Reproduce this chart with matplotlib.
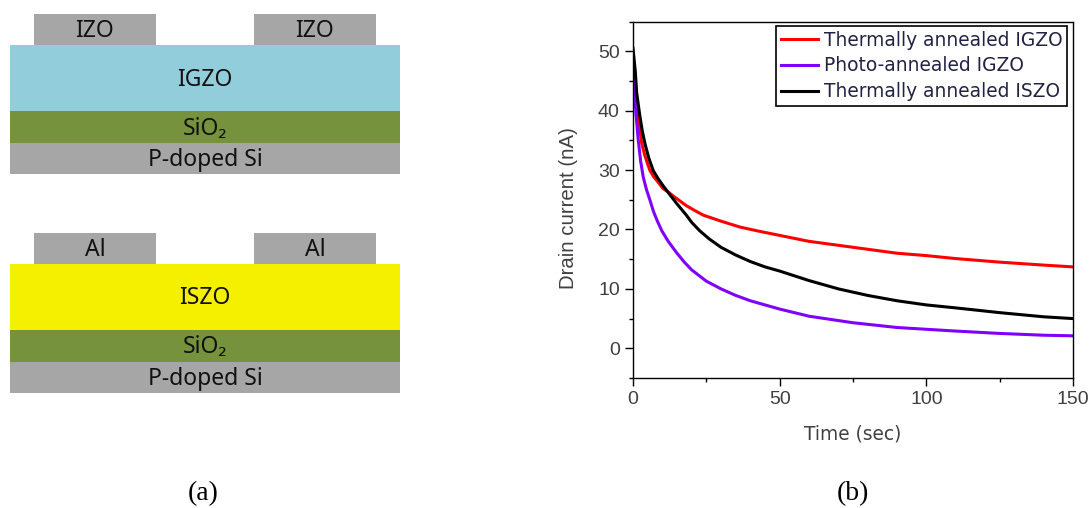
import matplotlib
matplotlib.use("Agg")
from matplotlib import pyplot as plt
from matplotlib.patches import Rectangle

W, H = 1091, 508

# device stacks (a): name, colour, left, right, top, bottom in picture pixels
layer_names = ["IZO", "IZO", "IGZO", "SiO₂", "P-doped Si",
               "Al", "Al", "ISZO", "SiO₂", "P-doped Si"]
layer_colors = ["#a6a6a6", "#a6a6a6", "#92cddc", "#76923c", "#a6a6a6",
                "#a6a6a6", "#a6a6a6", "#f5f000", "#76923c", "#a6a6a6"]
layer_left = [34, 254, 10, 10, 10, 34, 254, 10, 10, 10]
layer_right = [156, 376, 400, 400, 400, 156, 376, 400, 400, 400]
layer_top = [14, 14, 45, 111, 143, 233, 233, 264, 330, 362]
layer_bottom = [45, 45, 111, 143, 174, 264, 264, 330, 362, 393]

# decay curves (b)
t_igzo = [0, 0.5, 1, 1.8, 3, 4, 5, 5.8, 7, 8.5, 10.2, 12, 13.8, 16, 18.2, 21, 24, 30, 36.5, 43, 50, 60, 75, 90, 100,
          110, 125, 140, 150]
i_igzo = [44, 42, 40.5, 38.9, 34.4, 32.5, 31, 29.9, 28.9, 28, 26.9, 26.3, 25.6, 24.8, 24, 23.2, 22.4, 21.4, 20.4,
          19.7, 19, 18, 17, 16, 15.6, 15.1, 14.5, 14, 13.7]
t_photo = [0, 0.3, 1, 1.8, 2.6, 3.5, 4.6, 5.8, 7, 8.4, 9.8, 12, 15, 17.5, 20, 25, 30, 35, 40, 45, 50, 60, 75, 90, 100,
           110, 125, 140, 150]
i_photo = [46.5, 46.5, 39.5, 35, 31.5, 28.8, 26.7, 24.9, 23, 21.3, 19.8, 18, 16, 14.5, 13.2, 11.3, 10, 8.9, 8, 7.3,
           6.6, 5.4, 4.3, 3.5, 3.2, 2.9, 2.5, 2.2, 2.1]
t_iszo = [0, 0.4, 0.8, 1.25, 1.8, 2.4, 3.2, 4.1, 5.4, 6.9, 8.5, 10.2, 12.5, 15, 18.2, 20, 22.7, 26, 30, 35, 40, 45,
          50, 60, 70, 80, 90, 100, 110, 125, 140, 150]
i_iszo = [50.5, 48.5, 46.5, 43, 41, 38.9, 36.5, 34.4, 32, 29.9, 28.6, 27.4, 25.9, 24.3, 22.4, 21.2, 19.8, 18.4, 17,
          15.7, 14.6, 13.7, 13, 11.4, 10, 8.9, 8, 7.3, 6.8, 6, 5.3, 5]
series_names = ["Thermally annealed IGZO", "Photo-annealed IGZO", "Thermally annealed ISZO"]
series_colors = ["#ff0000", "#8000ff", "#000000"]

x_ticks = [0, 50, 100, 150]
x_minor = [25, 75, 125]
y_ticks = [0, 10, 20, 30, 40, 50]
y_minor = [-5, 5, 15, 25, 35, 45, 55]

fig = plt.figure(figsize=(W / 100, H / 100), dpi=100, facecolor="white")

bg = fig.add_axes([0, 0, 1, 1])
bg.set_xlim(0, W)
bg.set_ylim(H, 0)
bg.axis("off")
for name, c, l, r, t, b in zip(layer_names, layer_colors, layer_left, layer_right, layer_top, layer_bottom):
    bg.add_patch(Rectangle((l, t), r - l, b - t, facecolor=c, edgecolor="none"))
    bg.text((l + r) / 2, (t + b) / 2 + 1.5, name, ha="center", va="center", fontsize=16.5,
            color="#111111", family=["Noto Sans", "DejaVu Sans"])
bg.text(203, 494, "(a)", ha="center", va="center", fontsize=20, family="Liberation Serif")
bg.text(853, 494, "(b)", ha="center", va="center", fontsize=20, family="Liberation Serif")

ax = fig.add_axes([633 / W, 1 - 378 / H, 440 / W, (378 - 21.5) / H])
ax.plot(t_igzo, i_igzo, color=series_colors[0], lw=2.2, label=series_names[0])
ax.plot(t_photo, i_photo, color=series_colors[1], lw=2.2, label=series_names[1])
ax.plot(t_iszo, i_iszo, color=series_colors[2], lw=2.2, label=series_names[2])
ax.set_xlim(0, 150)
ax.set_ylim(-5, 55)
ax.set_xticks(x_ticks)
ax.set_xticks(x_minor, minor=True)
ax.set_yticks(y_ticks)
ax.set_yticks(y_minor, minor=True)
ax.tick_params(which="major", length=5.5, width=1, labelsize=14, labelcolor="#404040", pad=4,
               labelfontfamily="Liberation Sans")
ax.tick_params(which="minor", length=3, width=1)
for s in ax.spines.values():
    s.set_linewidth(1)
ax.set_xlabel("Time (sec)", fontsize=13.4, color="#404040", family="DejaVu Sans")
ax.xaxis.set_label_coords(0.5, -0.13)
ax.set_ylabel("Drain current (nA)", fontsize=14.7, color="#404040", family="Liberation Sans")
ax.yaxis.set_label_coords(-0.125, 0.477)

leg = ax.legend(loc="upper right", bbox_to_anchor=(1067 / W, 1 - 26 / H), bbox_transform=fig.transFigure,
                borderaxespad=0, prop={"family": "DejaVu Sans", "size": 13.4}, frameon=True, fancybox=False,
                framealpha=1, edgecolor="black", handlelength=2.0, handletextpad=0.32, labelspacing=0.36,
                borderpad=0.25)
leg.get_frame().set_linewidth(1.2)
for txt in leg.get_texts():
    txt.set_color("#222244")

fig.savefig("out.png", dpi=100)
